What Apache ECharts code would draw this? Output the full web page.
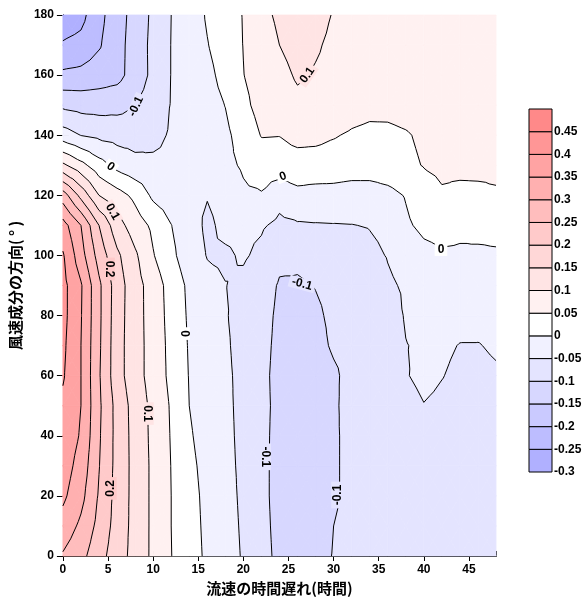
<!DOCTYPE html>
<html>
<head>
<meta charset="utf-8">
<script src="https://cdn.jsdelivr.net/npm/echarts@6/dist/echarts.min.js"></script>
<style>
  html, body { margin: 0; padding: 0; background: #fff; }
  #chart { width: 585px; height: 601px; }
</style>
</head>
<body>
<div id="chart"></div>
<script>
// 格子点：流速の時間遅れ（時間）
const lags = [0, 2, 4, 6, 8, 10, 12, 14, 16, 18, 20, 22, 24, 26, 28, 30, 32, 34, 36, 38, 40, 42, 44, 46, 48];
// 格子点：風速成分の方向（°）
const dirs = [0, 10, 20, 30, 40, 50, 60, 70, 80, 90, 100, 110, 120, 130, 140, 150, 160, 170, 180];

// 各方向の値（lags の順）
const z0   = [0.295, 0.265, 0.218, 0.174, 0.132, 0.09, 0.051, 0.02, -0.008, -0.031, -0.054, -0.086, -0.11, -0.122, -0.115, -0.098, -0.088, -0.083, -0.08, -0.078, -0.076, -0.075, -0.075, -0.074, -0.074];
const z10  = [0.33, 0.29, 0.235, 0.18, 0.133, 0.09, 0.05, 0.018, -0.01, -0.033, -0.056, -0.088, -0.112, -0.124, -0.12, -0.1, -0.09, -0.084, -0.08, -0.078, -0.076, -0.075, -0.075, -0.074, -0.074];
const z20  = [0.36, 0.315, 0.245, 0.183, 0.133, 0.09, 0.05, 0.016, -0.012, -0.035, -0.058, -0.09, -0.113, -0.125, -0.122, -0.105, -0.09, -0.084, -0.08, -0.078, -0.076, -0.075, -0.075, -0.074, -0.074];
const z30  = [0.375, 0.33, 0.252, 0.184, 0.133, 0.09, 0.049, 0.012, -0.016, -0.038, -0.059, -0.09, -0.113, -0.125, -0.122, -0.105, -0.09, -0.083, -0.078, -0.072, -0.068, -0.068, -0.068, -0.068, -0.068];
const z40  = [0.385, 0.345, 0.256, 0.184, 0.132, 0.088, 0.047, 0.006, -0.022, -0.04, -0.06, -0.09, -0.112, -0.123, -0.122, -0.105, -0.09, -0.082, -0.075, -0.068, -0.062, -0.064, -0.066, -0.066, -0.066];
const z50  = [0.39, 0.35, 0.259, 0.183, 0.13, 0.087, 0.045, 0.0, -0.027, -0.042, -0.06, -0.09, -0.11, -0.12, -0.12, -0.105, -0.088, -0.08, -0.072, -0.062, -0.051, -0.056, -0.06, -0.06, -0.06];
const z60  = [0.405, 0.35, 0.255, 0.17, 0.12, 0.08, 0.038, -0.002, -0.027, -0.042, -0.062, -0.09, -0.112, -0.12, -0.118, -0.105, -0.09, -0.08, -0.07, -0.052, -0.042, -0.049, -0.056, -0.056, -0.053];
const z70  = [0.41, 0.35, 0.258, 0.17, 0.12, 0.08, 0.036, -0.004, -0.03, -0.044, -0.065, -0.088, -0.11, -0.118, -0.11, -0.096, -0.09, -0.08, -0.07, -0.051, -0.045, -0.045, -0.051, -0.051, -0.047];
const z80  = [0.415, 0.353, 0.26, 0.172, 0.12, 0.078, 0.033, -0.007, -0.035, -0.047, -0.065, -0.085, -0.108, -0.114, -0.105, -0.094, -0.088, -0.08, -0.068, -0.047, -0.038, -0.036, -0.04, -0.042, -0.042];
const z90  = [0.415, 0.355, 0.26, 0.174, 0.12, 0.077, 0.03, -0.01, -0.038, -0.049, -0.06, -0.08, -0.104, -0.104, -0.099, -0.092, -0.087, -0.08, -0.056, -0.045, -0.03, -0.024, -0.026, -0.025, -0.025];
const z100 = [0.405, 0.32, 0.23, 0.16, 0.108, 0.053, 0.011, -0.027, -0.052, -0.056, -0.045, -0.06, -0.09, -0.093, -0.088, -0.08, -0.073, -0.06, -0.048, -0.035, -0.015, -0.006, -0.008, -0.006, -0.004];
const z110 = [0.37, 0.3, 0.2, 0.12, 0.075, 0.04, 0.001, -0.03, -0.058, -0.04, -0.04, -0.045, -0.06, -0.055, -0.053, -0.052, -0.051, -0.048, -0.04, -0.008, 0.012, 0.018, 0.012, 0.01, 0.01];
const z120 = [0.275, 0.185, 0.1, 0.07, 0.038, -0.01, -0.025, -0.038, -0.048, -0.035, -0.008, -0.004, -0.035, -0.015, -0.02, -0.02, -0.025, -0.025, -0.015, 0.003, 0.03, 0.045, 0.04, 0.042, 0.046];
const z130 = [0.11, 0.066, 0.02, -0.015, -0.035, -0.04, -0.04, -0.035, -0.025, -0.012, 0.006, 0.025, 0.03, 0.033, 0.033, 0.03, 0.026, 0.026, 0.03, 0.04, 0.052, 0.059, 0.06, 0.059, 0.058];
const z140 = [-0.027, -0.051, -0.061, -0.068, -0.07, -0.063, -0.045, -0.035, -0.022, -0.011, 0.022, 0.052, 0.051, 0.062, 0.06, 0.053, 0.045, 0.04, 0.04, 0.046, 0.058, 0.065, 0.066, 0.066, 0.065];
const z150 = [-0.11, -0.118, -0.12, -0.116, -0.101, -0.077, -0.048, -0.035, -0.02, 0.001, 0.039, 0.066, 0.083, 0.092, 0.088, 0.08, 0.068, 0.062, 0.063, 0.068, 0.075, 0.078, 0.078, 0.077, 0.076];
const z160 = [-0.19, -0.185, -0.175, -0.166, -0.128, -0.088, -0.049, -0.033, -0.013, 0.016, 0.049, 0.07, 0.09, 0.104, 0.097, 0.09, 0.085, 0.083, 0.083, 0.083, 0.082, 0.082, 0.081, 0.08, 0.08];
const z170 = [-0.245, -0.235, -0.205, -0.168, -0.128, -0.087, -0.049, -0.027, -0.002, 0.024, 0.051, 0.078, 0.1, 0.112, 0.104, 0.093, 0.087, 0.086, 0.086, 0.086, 0.085, 0.085, 0.084, 0.084, 0.083];
const z180 = [-0.28, -0.265, -0.214, -0.172, -0.131, -0.09, -0.05, -0.028, 0.005, 0.028, 0.052, 0.088, 0.108, 0.118, 0.112, 0.098, 0.09, 0.088, 0.087, 0.087, 0.086, 0.086, 0.085, 0.085, 0.085];
const zGrid = [z0, z10, z20, z30, z40, z50, z60, z70, z80, z90, z100, z110, z120, z130, z140, z150, z160, z170, z180];

// 等値線の区切り（カラーバーの境界）
const bandEdges = [-0.3, -0.25, -0.2, -0.15, -0.1, -0.05, 0, 0.05, 0.1, 0.15, 0.2, 0.25, 0.3, 0.35, 0.4, 0.45, 0.5];
const bandColors = ['#b0b0ff', '#bdbdff', '#cacaff', '#d7d7ff', '#e4e4ff', '#f1f1ff', '#ffffff',
  '#fff1f1', '#ffe4e4', '#ffd7d7', '#ffcaca', '#ffbdbd', '#ffb0b0', '#ffa3a3', '#ff9696', '#ff8989'];
const lineLevels = [-0.25, -0.2, -0.15, -0.1, -0.05, 0, 0.05, 0.1, 0.15, 0.2, 0.25, 0.3, 0.35, 0.4, 0.45];

// 等値線ラベル [時間遅れ, 方向, 文字, 回転(度)]
const contourLabels = [
  [8.1, 149.6, '-0.1', 65],
  [5.3, 129.5, '0', -35],
  [5.5, 114.5, '0.1', -60],
  [5.1, 95.5, '0.2', -90],
  [13.4, 74, '0', -90],
  [9.4, 47.4, '0.1', -90],
  [5.3, 22.5, '0.2', 90],
  [22.4, 33, '-0.1', -90],
  [30.4, 20.3, '-0.1', 90],
  [26.5, 90.5, '-0.1', -15],
  [24.4, 126.3, '0', 20],
  [27.1, 160, '0.1', 55],
  [41.9, 101.8, '0', 0]
];

const cells = [];
for (let j = 0; j < dirs.length - 1; j++) {
  for (let i = 0; i < lags.length - 1; i++) cells.push([i, j]);
}

// セルを中心点で4つの三角形に分割
function cellTriangles(api, i, j) {
  const pt = (ii, jj) => {
    const c = api.coord([lags[ii], dirs[jj]]);
    return { x: c[0], y: c[1], v: zGrid[jj][ii] };
  };
  const a = pt(i, j), b = pt(i + 1, j), c = pt(i + 1, j + 1), d = pt(i, j + 1);
  const m = {
    x: (a.x + b.x + c.x + d.x) / 4,
    y: (a.y + b.y + c.y + d.y) / 4,
    v: (a.v + b.v + c.v + d.v) / 4
  };
  return [[a, b, m], [b, c, m], [c, d, m], [d, a, m]];
}

function clip(poly, t, above) {
  const out = [];
  const inside = p => above ? p.v >= t : p.v < t;
  for (let k = 0; k < poly.length; k++) {
    const a = poly[k], b = poly[(k + 1) % poly.length];
    const ia = inside(a), ib = inside(b);
    if (ia) out.push(a);
    if (ia !== ib) {
      const f = (t - a.v) / (b.v - a.v);
      out.push({ x: a.x + (b.x - a.x) * f, y: a.y + (b.y - a.y) * f, v: t });
    }
  }
  return out;
}

function renderFill(params, api) {
  const i = api.value(0), j = api.value(1);
  const children = [];
  cellTriangles(api, i, j).forEach(tri => {
    const vs = tri.map(p => p.v);
    const lo = Math.min(...vs), hi = Math.max(...vs);
    for (let k = 0; k < bandColors.length; k++) {
      if (bandEdges[k + 1] <= lo || bandEdges[k] > hi) continue;
      let poly = clip(tri, bandEdges[k], true);
      if (poly.length < 3) continue;
      poly = clip(poly, bandEdges[k + 1], false);
      if (poly.length < 3) continue;
      children.push({
        type: 'polygon',
        shape: { points: poly.map(p => [p.x, p.y]) },
        style: { fill: bandColors[k], stroke: bandColors[k], lineWidth: 0.8 }
      });
    }
  });
  return { type: 'group', children: children };
}

function renderLines(params, api) {
  const i = api.value(0), j = api.value(1);
  const children = [];
  cellTriangles(api, i, j).forEach(tri => {
    lineLevels.forEach(L => {
      const pts = [];
      for (let k = 0; k < 3; k++) {
        const a = tri[k], b = tri[(k + 1) % 3];
        if ((a.v >= L) !== (b.v >= L)) {
          const f = (L - a.v) / (b.v - a.v);
          pts.push([a.x + (b.x - a.x) * f, a.y + (b.y - a.y) * f]);
        }
      }
      if (pts.length === 2) {
        children.push({
          type: 'line',
          shape: { x1: pts[0][0], y1: pts[0][1], x2: pts[1][0], y2: pts[1][1] },
          style: { stroke: '#000', lineWidth: 1 }
        });
      }
    });
  });
  return { type: 'group', children: children };
}

function renderLabel(params, api) {
  const c = api.coord([api.value(0), api.value(1)]);
  const txt = contourLabels[params.dataIndex][2];
  const band = Math.round((parseFloat(txt) + 0.3) / 0.05);
  return {
    type: 'text',
    x: c[0], y: c[1],
    rotation: api.value(3) * Math.PI / 180,
    style: {
      text: txt,
      fill: '#000',
      font: 'bold 12px "Liberation Sans", Arial, sans-serif',
      align: 'center',
      verticalAlign: 'middle',
      backgroundColor: bandColors[band],
      padding: [0, 3]
    }
  };
}

// カラーバーの各区間
const barBins = bandColors.map((c, k) => [0, bandEdges[k], 1, bandEdges[k + 1]]);
function renderBin(params, api) {
  const p0 = api.coord([api.value(0), api.value(1)]);
  const p1 = api.coord([api.value(2), api.value(3)]);
  return {
    type: 'rect',
    shape: { x: p0[0], y: p1[1], width: p1[0] - p0[0], height: p0[1] - p1[1] },
    style: { fill: bandColors[params.dataIndex], stroke: '#000', lineWidth: 1 }
  };
}

const tickFont = { color: '#000', fontFamily: '"Liberation Sans", Arial, sans-serif', fontWeight: 'bold', fontSize: 12 };
const nameFont = { color: '#000', fontFamily: '"Noto Sans CJK JP", sans-serif', fontWeight: 'bold', fontSize: 15 };
const blackLine = { show: true, lineStyle: { color: '#000', width: 1 } };

const chart = echarts.init(document.getElementById('chart'));
chart.setOption({
  animation: false,
  backgroundColor: '#fff',
  grid: [
    { left: 62, top: 15, width: 434, height: 543 },
    { left: 529, top: 109, width: 23, height: 363 }
  ],
  xAxis: [
    {
      gridIndex: 0, type: 'value', min: 0, max: 48, interval: 5, position: 'bottom',
      name: '流速の時間遅れ(時間)', nameLocation: 'middle', nameGap: 25, nameTextStyle: nameFont,
      axisLine: blackLine, axisTick: { show: true, length: 5, lineStyle: { color: '#000' } },
      axisLabel: Object.assign({ margin: 8, showMaxLabel: false }, tickFont),
      splitLine: { show: false }
    },
    {
      gridIndex: 0, type: 'value', min: 0, max: 48, interval: 5, position: 'top',
      axisLine: blackLine, axisTick: { show: true, length: 5, lineStyle: { color: '#000' } },
      axisLabel: { show: false }, splitLine: { show: false }
    },
    { gridIndex: 1, type: 'value', min: 0, max: 1, show: false }
  ],
  yAxis: [
    {
      gridIndex: 0, type: 'value', min: 0, max: 180, interval: 20, position: 'left',
      name: '風速成分の方向( ° )', nameLocation: 'middle', nameGap: 32, nameTextStyle: nameFont,
      axisLine: blackLine, axisTick: { show: true, length: 6, lineStyle: { color: '#000' } },
      axisLabel: Object.assign({ margin: 9 }, tickFont),
      splitLine: { show: false }
    },
    {
      gridIndex: 0, type: 'value', min: 0, max: 180, interval: 20, position: 'right',
      axisLine: blackLine, axisTick: { show: true, length: 6, lineStyle: { color: '#000' } },
      axisLabel: { show: false }, splitLine: { show: false }
    },
    {
      gridIndex: 1, type: 'value', min: -0.3, max: 0.5, interval: 0.05, position: 'right',
      axisLine: { show: false }, axisTick: { show: false },
      axisLabel: Object.assign({ margin: 2, showMaxLabel: false, formatter: v => String(+v.toFixed(2)) }, tickFont),
      splitLine: { show: false }
    }
  ],
  series: [
    {
      type: 'custom', xAxisIndex: 0, yAxisIndex: 0, data: cells,
      renderItem: renderFill, silent: true, z: 1
    },
    {
      type: 'custom', xAxisIndex: 0, yAxisIndex: 0, data: cells,
      renderItem: renderLines, silent: true, z: 2
    },
    {
      type: 'custom', xAxisIndex: 0, yAxisIndex: 0, data: contourLabels,
      renderItem: renderLabel, silent: true, z: 3
    },
    {
      type: 'custom', xAxisIndex: 2, yAxisIndex: 2, data: barBins,
      renderItem: renderBin, silent: true, z: 1
    }
  ]
});
</script>
</body>
</html>
